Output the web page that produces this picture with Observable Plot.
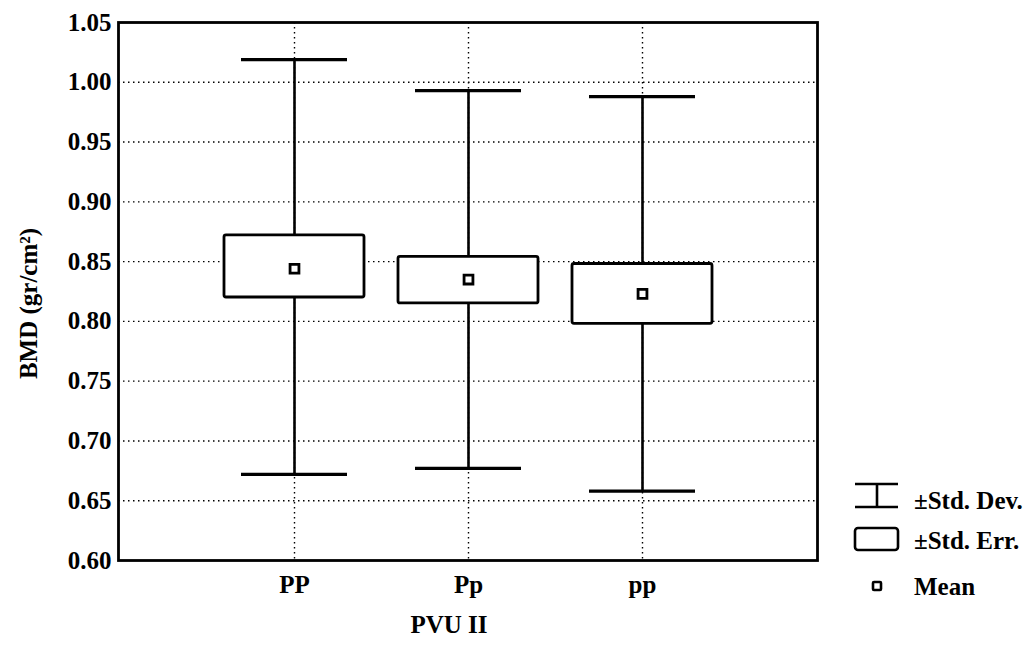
<!DOCTYPE html>
<html>
<head>
<meta charset="utf-8">
<script src="https://cdn.jsdelivr.net/npm/d3@7"></script>
<script src="https://cdn.jsdelivr.net/npm/@observablehq/plot@0.6"></script>
<style>
  html, body { margin: 0; padding: 0; background: #fff; }
  #wrap { position: relative; width: 1035px; height: 647px; }
  #legend { position: absolute; left: 0; top: 0; pointer-events: none; }
</style>
</head>
<body>
<div id="wrap"></div>
<script>
// ---- data ----
const categories = ["PP", "Pp", "pp"];
const means  = [0.844, 0.835, 0.823];
const seLow  = [0.820, 0.815, 0.798];
const seHigh = [0.872, 0.854, 0.848];
const sdLow  = [0.672, 0.677, 0.658];
const sdHigh = [1.019, 0.993, 0.988];
const yTicks = [0.60, 0.65, 0.70, 0.75, 0.80, 0.85, 0.90, 0.95, 1.00, 1.05];
const gridTicks = [0.65, 0.70, 0.75, 0.80, 0.85, 0.90, 0.95, 1.00];
const xLabel = "PVU II";
const yLabel = "BMD (gr/cm²)";
const legendLabels = ["±Std. Dev.", "±Std. Err.", "Mean"];

const rows = categories.map((c, i) => ({
  cat: c, mean: means[i], seLow: seLow[i], seHigh: seHigh[i], sdLow: sdLow[i], sdHigh: sdHigh[i]
}));

const FONT = "'Liberation Serif', 'Times New Roman', serif";
const dots = "1.5,3.5";

const chart = Plot.plot({
  width: 1035,
  height: 647,
  marginLeft: 118,
  marginRight: 218,
  marginTop: 22,
  marginBottom: 87,
  style: { fontFamily: FONT, background: "white", color: "black" },
  x: { type: "band", domain: categories, paddingInner: 0, paddingOuter: 0.5, axis: null },
  y: { domain: [0.60, 1.05], axis: null },
  marks: [
    Plot.ruleY(gridTicks, { stroke: "black", strokeWidth: 1.4, strokeDasharray: dots }),
    Plot.ruleX(categories, { x: d => d, stroke: "black", strokeWidth: 1.4, strokeDasharray: dots }),
    Plot.ruleX(rows, { x: "cat", y1: "sdLow", y2: "sdHigh", stroke: "black", strokeWidth: 2.6 }),
    Plot.barY(rows, { x: "cat", y1: "seLow", y2: "seHigh", fill: "white", stroke: "black", strokeWidth: 2.8, insetLeft: 17, insetRight: 17, rx: 2 }),
    Plot.tickY(rows, { x: "cat", y: "sdHigh", stroke: "black", strokeWidth: 3.2, insetLeft: 34, insetRight: 34 }),
    Plot.tickY(rows, { x: "cat", y: "sdLow", stroke: "black", strokeWidth: 3.2, insetLeft: 34, insetRight: 34 }),
    Plot.dot(rows, { x: "cat", y: "mean", symbol: "square", r: 5, fill: "white", stroke: "black", strokeWidth: 2.8 }),
    Plot.frame({ stroke: "black", strokeWidth: 2.8 }),
    Plot.axisY({ ticks: yTicks, tickFormat: d3.format(".2f"), tickSize: 0, tickPadding: 7, fontSize: 25, fontWeight: "bold", label: null }),
    Plot.axisX({ domain: categories, tickSize: 0, tickPadding: 15, fontSize: 25, fontWeight: "bold", label: null }),
    Plot.text([xLabel], { frameAnchor: "bottom", dy: 72, dx: -19, fontSize: 25, fontWeight: "bold", fill: "black" }),
    Plot.text([yLabel], { frameAnchor: "left", textAnchor: "middle", dx: -90, dy: 12, rotate: -90, fontSize: 25, fontWeight: "bold", fill: "black" })
  ]
});

const wrap = document.getElementById("wrap");
wrap.appendChild(chart);

// ---- legend (right side) ----
const leg = d3.select(wrap).append("svg")
  .attr("id", "legend").attr("width", 1035).attr("height", 647)
  .style("font-family", FONT);
const g = leg.append("g").attr("stroke", "black").attr("fill", "none").attr("stroke-width", 2.6);
// Std. Dev. icon
g.append("line").attr("x1", 855).attr("x2", 898).attr("y1", 484).attr("y2", 484);
g.append("line").attr("x1", 855).attr("x2", 898).attr("y1", 507).attr("y2", 507);
g.append("line").attr("x1", 877).attr("x2", 877).attr("y1", 484).attr("y2", 507);
// Std. Err. icon
g.append("rect").attr("x", 855).attr("y", 528).attr("width", 43).attr("height", 22).attr("rx", 3);
// Mean icon
g.append("rect").attr("x", 873).attr("y", 582).attr("width", 8).attr("height", 8).attr("rx", 1);
const ys = [500, 540, 586];
legendLabels.forEach((t, i) => {
  leg.append("text").attr("x", 914).attr("y", ys[i]).attr("dominant-baseline", "central")
    .attr("font-size", 25).attr("font-weight", "bold").attr("fill", "black").text(t);
});
</script>
</body>
</html>
